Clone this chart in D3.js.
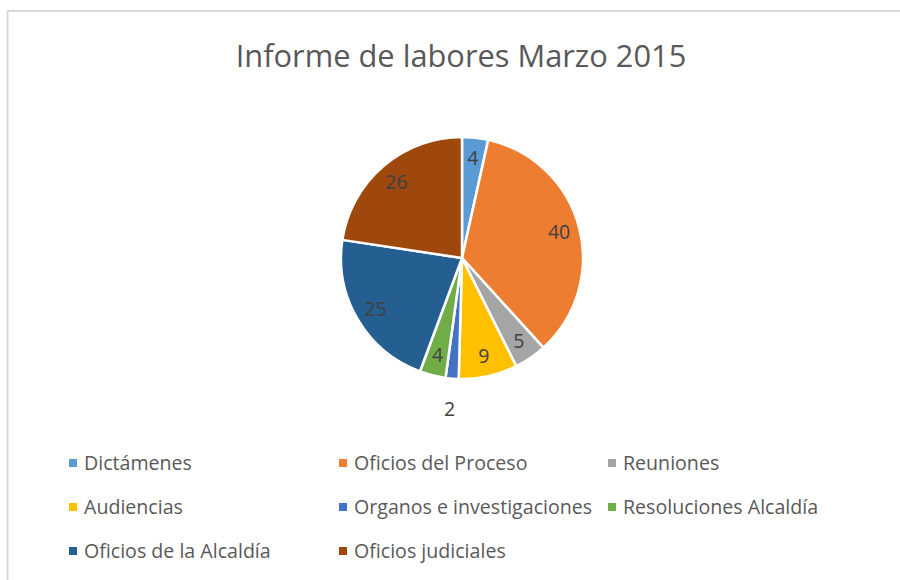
<!DOCTYPE html>
<html>
<head>
<meta charset="utf-8">
<script src="https://cdn.jsdelivr.net/npm/d3@7"></script>
<style>
  body { margin: 0; background: #fff; }
  svg { display: block; font-family: "Open Sans", "Noto Sans", sans-serif; }
</style>
</head>
<body>
<svg width="900" height="580"></svg>
<script>
// data
var categories = ["Dictámenes", "Oficios del Proceso", "Reuniones", "Audiencias",
  "Organos e investigaciones", "Resoluciones Alcaldía", "Oficios de la Alcaldía", "Oficios judiciales"];
var values = [4, 40, 5, 9, 2, 4, 25, 26];
var colors = ["#5b9bd5", "#ed7d31", "#a5a5a5", "#ffc000", "#4472c4", "#70ad47", "#255e91", "#9e480e"];

var svg = d3.select("svg"),
    width = +svg.attr("width"),
    height = +svg.attr("height");

// chart frame
svg.append("rect")
  .attr("x", 7.5).attr("y", 11)
  .attr("width", width).attr("height", height)
  .attr("fill", "none")
  .attr("stroke", "#d9d9d9")
  .attr("stroke-width", 2);

svg.append("text")
  .attr("x", 461).attr("y", 67)
  .attr("text-anchor", "middle")
  .attr("font-size", 30.8)
  .attr("fill", "#595959")
  .text("Informe de labores Marzo 2015");

var cx = 462, cy = 258, r = 121;

var color = d3.scaleOrdinal().domain(categories).range(colors);

var pie = d3.pie().sort(null).value(function(d) { return d.value; });
var data = categories.map(function(c, i) { return {name: c, value: values[i]}; });
var arcs = pie(data);

var arc = d3.arc().innerRadius(0).outerRadius(r);
var labelArc = d3.arc().innerRadius(r * 0.83).outerRadius(r * 0.83);
var outArc = d3.arc().innerRadius(r * 1.25).outerRadius(r * 1.25);

var g = svg.append("g").attr("transform", "translate(" + cx + "," + cy + ")");

g.selectAll("path")
  .data(arcs)
  .enter().append("path")
    .attr("d", arc)
    .attr("fill", function(d) { return color(d.data.name); })
    .attr("stroke", "#fff")
    .attr("stroke-width", 2.5)
    .attr("stroke-linejoin", "round");

g.selectAll("text.lbl")
  .data(arcs)
  .enter().append("text")
    .attr("class", "lbl")
    .attr("transform", function(d) {
      var p = d.data.value < 3 ? outArc.centroid(d) : labelArc.centroid(d);
      return "translate(" + p + ")";
    })
    .attr("text-anchor", "middle")
    .attr("dy", "0.35em")
    .attr("font-size", 19.5)
    .attr("fill", "#404040")
    .text(function(d) { return d.data.value; });

// legend, 3 per row
var colX = [73, 343, 612], rowY = [463, 507, 551];
var leg = svg.selectAll("g.leg")
  .data(categories)
  .enter().append("g")
    .attr("class", "leg")
    .attr("transform", function(d, i) {
      return "translate(" + colX[i % 3] + "," + rowY[Math.floor(i / 3)] + ")";
    });

leg.append("rect")
  .attr("x", -4).attr("y", -4)
  .attr("width", 8).attr("height", 8)
  .attr("fill", function(d) { return color(d); });

leg.append("text")
  .attr("x", 11)
  .attr("dy", "0.35em")
  .attr("font-size", 19.6)
  .attr("fill", "#595959")
  .text(function(d) { return d; });
</script>
</body>
</html>
